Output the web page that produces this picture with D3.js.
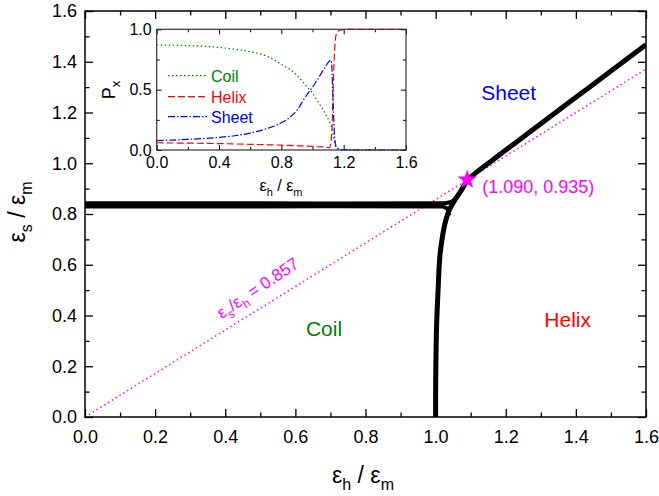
<!DOCTYPE html>
<html>
<head>
<meta charset="utf-8">
<script src="https://cdn.jsdelivr.net/npm/d3@7"></script>
<style>
  html, body { margin: 0; padding: 0; background: #fff; }
  svg { display: block; font-family: "Liberation Sans", Arial, sans-serif; }
</style>
</head>
<body>
<svg id="chart" width="659" height="496"></svg>
<script>
// ---------- phase diagram data (eps_h/eps_m, eps_s/eps_m) ----------
// coil–sheet boundary, upper strand, bending up into the sheet–helix line
const boundaryCoilSheetUpper = [[0, 0.842], [0.5, 0.842], [1.0, 0.842], [1.03, 0.843], [1.045, 0.848], [1.056, 0.86], [1.066, 0.878], [1.078, 0.903], [1.09, 0.935]];
// coil–sheet boundary, lower strand, bending down into the coil–helix line
const boundaryCoilSheetLower = [[0, 0.830], [0.5, 0.830], [1.0, 0.830], [1.02, 0.829], [1.03, 0.824], [1.036, 0.812], [1.039, 0.795]];
// coil–helix boundary
const boundaryCoilHelix = [[1.0, 0], [1.0, 0.1], [1.001, 0.24], [1.003, 0.37], [1.007, 0.5], [1.012, 0.632], [1.018, 0.698], [1.027, 0.764], [1.039, 0.816], [1.055, 0.855], [1.074, 0.895], [1.09, 0.935]];
// sheet–helix boundary
const boundarySheetHelix = [[1.09, 0.935], [1.12, 0.968], [1.16, 1.01], [1.2, 1.052], [1.26, 1.114], [1.33, 1.187], [1.4, 1.26], [1.47, 1.332], [1.54, 1.405], [1.6, 1.467]];

// triple point and the ratio line through it
const triplePoint = [1.090, 0.935];
const ratioSlope = 0.857;

// axis ticks
const mainMajorTicks = [0, 0.2, 0.4, 0.6, 0.8, 1.0, 1.2, 1.4, 1.6];
const mainMinorTicks = [0.1, 0.3, 0.5, 0.7, 0.9, 1.1, 1.3, 1.5];

// ---------- inset: populations P_x vs eps_h/eps_m ----------
const insetEh  = [0, 0.1, 0.2, 0.3, 0.4, 0.5, 0.6, 0.7, 0.8, 0.9, 0.96, 1.0, 1.04, 1.07, 1.09, 1.11, 1.115, 1.12, 1.125, 1.13, 1.135, 1.14, 1.145, 1.15, 1.16, 1.18, 1.2, 1.3, 1.4, 1.5, 1.6];
const coilP    = [0.87, 0.868, 0.865, 0.86, 0.85, 0.835, 0.815, 0.78, 0.71, 0.62, 0.53, 0.47, 0.39, 0.33, 0.28, 0.23, 0.215, 0.2, 0.18, 0.15, 0.11, 0.07, 0.04, 0.02, 0.008, 0.002, 0, 0, 0, 0, 0];
const helixP   = [0.06, 0.058, 0.057, 0.055, 0.053, 0.05, 0.047, 0.044, 0.04, 0.035, 0.032, 0.03, 0.027, 0.025, 0.022, 0.02, 0.04, 0.08, 0.18, 0.38, 0.6, 0.78, 0.89, 0.945, 0.977, 0.993, 0.998, 1, 1, 1, 1];
const sheetP   = [0.077, 0.082, 0.088, 0.095, 0.105, 0.118, 0.14, 0.175, 0.225, 0.33, 0.45, 0.52, 0.60, 0.665, 0.705, 0.74, 0.745, 0.74, 0.66, 0.48, 0.3, 0.15, 0.07, 0.035, 0.015, 0.005, 0.002, 0, 0, 0, 0];
const insetXTicks = [0, 0.4, 0.8, 1.2, 1.6];
const insetXMinor = [0.2, 0.6, 1.0, 1.4];
const insetYTicks = [0, 0.5, 1.0];
const insetYMinor = [0.25, 0.75];

const seriesNames  = ["Coil", "Helix", "Sheet"];
const seriesColors = ["#008000", "#ff0000", "#0000ff"];
const seriesDashes = ["1.5 2.5", "7 3", "7 2 1.5 2"];
const seriesValues = [coilP, helixP, sheetP];

const magenta = "#ff00ff";
const svg = d3.select("#chart");
const fmt = d3.format(".1f");

// ---------- main plot ----------
const x = d3.scaleLinear().domain([0, 1.6]).range([85, 646]);
const y = d3.scaleLinear().domain([0, 1.6]).range([417, 11]);

svg.append("defs").append("clipPath").attr("id", "plotClip")
  .append("rect").attr("x", 85).attr("y", 11).attr("width", 561).attr("height", 406);

function inwardAxis(axisFn, scale, ticks, size, labelled, pad, fontSize) {
  return g => {
    g.call(axisFn(scale).tickValues(ticks).tickSizeInner(-size).tickSizeOuter(0)
        .tickPadding(pad).tickFormat(labelled ? fmt : () => ""));
    g.select(".domain").remove();
    g.selectAll(".tick line").attr("stroke", "#000").attr("stroke-width", 1.3);
    g.selectAll("text").attr("font-size", fontSize).attr("fill", "#000")
      .attr("font-family", "Liberation Sans, Arial, sans-serif");
  };
}

// ticks on all four sides
svg.append("g").attr("transform", "translate(0,417)").call(inwardAxis(d3.axisBottom, x, mainMajorTicks, 8, true, 13, 18));
svg.append("g").attr("transform", "translate(0,417)").call(inwardAxis(d3.axisBottom, x, mainMinorTicks, 4.5, false, 13, 18));
svg.append("g").attr("transform", "translate(0,11)").call(inwardAxis(d3.axisTop, x, mainMajorTicks, 8, false, 3, 18));
svg.append("g").attr("transform", "translate(0,11)").call(inwardAxis(d3.axisTop, x, mainMinorTicks, 4.5, false, 3, 18));
svg.append("g").attr("transform", "translate(85,0)").call(inwardAxis(d3.axisLeft, y, mainMajorTicks, 8, true, 8, 18));
svg.append("g").attr("transform", "translate(85,0)").call(inwardAxis(d3.axisLeft, y, mainMinorTicks, 4.5, false, 8, 18));
svg.append("g").attr("transform", "translate(646,0)").call(inwardAxis(d3.axisRight, y, mainMajorTicks, 8, false, 3, 18));
svg.append("g").attr("transform", "translate(646,0)").call(inwardAxis(d3.axisRight, y, mainMinorTicks, 4.5, false, 3, 18));

const plot = svg.append("g").attr("clip-path", "url(#plotClip)");

// ratio line eps_s/eps_h = 0.857
plot.append("line")
  .attr("x1", x(0)).attr("y1", y(0))
  .attr("x2", x(1.6)).attr("y2", y(1.6 * ratioSlope))
  .attr("stroke", magenta).attr("stroke-width", 1.5).attr("stroke-dasharray", "1.5 3");

const boundaryLine = d3.line().x(d => x(d[0])).y(d => y(d[1])).curve(d3.curveCatmullRom.alpha(0.5));
[[boundaryCoilSheetUpper, 4], [boundaryCoilSheetLower, 4], [boundaryCoilHelix, 5], [boundarySheetHelix, 5]].forEach(([pts, w]) => {
  plot.append("path").attr("d", boundaryLine(pts))
    .attr("fill", "none").attr("stroke", "#000").attr("stroke-width", w)
    .attr("stroke-linejoin", "round").attr("stroke-linecap", "butt");
});

// triple point
svg.append("path")
  .attr("d", d3.symbol().type(d3.symbolStar).size(120)())
  .attr("transform", `translate(${x(triplePoint[0])},${y(triplePoint[1])})`)
  .attr("fill", magenta);
svg.append("text")
  .attr("x", x(triplePoint[0]) + 15).attr("y", y(triplePoint[1]) + 13)
  .attr("font-size", 18).attr("fill", magenta)
  .text(`(${d3.format(".3f")(triplePoint[0])}, ${d3.format(".3f")(triplePoint[1])})`);

// ratio label along the dotted line
const ratioLabel = svg.append("text")
  .attr("transform", `translate(${x(0.39)},${y(0.39 * ratioSlope) - 13}) rotate(-34)`)
  .attr("font-size", 17).attr("fill", magenta);
ratioLabel.append("tspan").text("ε");
ratioLabel.append("tspan").attr("dy", 5).attr("font-size", 12).text("s");
ratioLabel.append("tspan").attr("dy", -5).text("/ε");
ratioLabel.append("tspan").attr("dy", 5).attr("font-size", 12).text("h");
ratioLabel.append("tspan").attr("dy", -5).text(" = " + ratioSlope.toFixed(3));

// phase region labels
[["Sheet", 1.13, 1.25, "#0000ff"], ["Coil", 0.63, 0.32, "#008000"], ["Helix", 1.31, 0.355, "#ff0000"]].forEach(([t, ex, ey, c]) => {
  svg.append("text").attr("x", x(ex)).attr("y", y(ey)).attr("font-size", 21).attr("fill", c).text(t);
});

// axis titles with subscripts
function subTitle(sel, sub1, sub2, subSize, shift) {
  sel.append("tspan").text("ε");
  sel.append("tspan").attr("dy", shift).attr("font-size", subSize).text(sub1);
  sel.append("tspan").attr("dy", -shift).text(" / ε");
  sel.append("tspan").attr("dy", shift).attr("font-size", subSize).text(sub2);
}
subTitle(svg.append("text").attr("x", 363).attr("y", 483).attr("text-anchor", "middle").attr("font-size", 23),
  "h", "m", 16, 7);
subTitle(svg.append("text").attr("transform", "translate(25,212) rotate(-90)").attr("text-anchor", "middle").attr("font-size", 23),
  "s", "m", 16, 7);

// main frame
svg.append("rect").attr("x", 85).attr("y", 11).attr("width", 561).attr("height", 406)
  .attr("fill", "none").attr("stroke", "#000").attr("stroke-width", 1.5);

// ---------- inset ----------
const xi = d3.scaleLinear().domain([0, 1.6]).range([156.7, 406]);
const yi = d3.scaleLinear().domain([0, 1]).range([150, 29.3]);

svg.append("rect").attr("x", 156.7).attr("y", 29.3).attr("width", 249.3).attr("height", 120.7)
  .attr("fill", "#fff");

const inset = svg.append("g");
inset.append("g").attr("transform", "translate(0,150)").call(inwardAxis(d3.axisBottom, xi, insetXTicks, 5, true, 7, 16));
inset.append("g").attr("transform", "translate(0,150)").call(inwardAxis(d3.axisBottom, xi, insetXMinor, 3, false, 7, 16));
inset.append("g").attr("transform", "translate(0,29.3)").call(inwardAxis(d3.axisTop, xi, insetXTicks, 5, false, 3, 16));
inset.append("g").attr("transform", "translate(0,29.3)").call(inwardAxis(d3.axisTop, xi, insetXMinor, 3, false, 3, 16));
inset.append("g").attr("transform", "translate(156.7,0)").call(inwardAxis(d3.axisLeft, yi, insetYTicks, 5, true, 5, 16));
inset.append("g").attr("transform", "translate(156.7,0)").call(inwardAxis(d3.axisLeft, yi, insetYMinor, 3, false, 5, 16));
inset.append("g").attr("transform", "translate(406,0)").call(inwardAxis(d3.axisRight, yi, insetYTicks, 5, false, 3, 16));
inset.append("g").attr("transform", "translate(406,0)").call(inwardAxis(d3.axisRight, yi, insetYMinor, 3, false, 3, 16));
inset.selectAll(".tick line").attr("stroke-width", 1);

const popLine = d3.line().curve(d3.curveMonotoneX);
seriesValues.forEach((vals, i) => {
  inset.append("path")
    .attr("d", popLine(insetEh.map((e, k) => [xi(e), yi(vals[k])])))
    .attr("fill", "none").attr("stroke", seriesColors[i]).attr("stroke-width", 1.2)
    .attr("stroke-dasharray", seriesDashes[i]);
});

// inset legend
const legendY = [75.7, 96.7, 116.7];
seriesNames.forEach((name, i) => {
  inset.append("line").attr("x1", 168).attr("x2", 207).attr("y1", legendY[i]).attr("y2", legendY[i])
    .attr("stroke", seriesColors[i]).attr("stroke-width", 1.2).attr("stroke-dasharray", seriesDashes[i]);
  inset.append("text").attr("x", 211).attr("y", legendY[i] + 6).attr("font-size", 16)
    .attr("fill", seriesColors[i]).text(name);
});

// inset titles
subTitle(inset.append("text").attr("x", 281).attr("y", 191).attr("text-anchor", "middle").attr("font-size", 16),
  "h", "m", 11, 5);
const pTitle = inset.append("text").attr("transform", "translate(115,90) rotate(-90)")
  .attr("text-anchor", "middle").attr("font-size", 18);
pTitle.append("tspan").text("P");
pTitle.append("tspan").attr("dy", 5).attr("font-size", 13).text("x");

inset.append("rect").attr("x", 156.7).attr("y", 29.3).attr("width", 249.3).attr("height", 120.7)
  .attr("fill", "none").attr("stroke", "#333").attr("stroke-width", 1.2);
</script>
</body>
</html>
